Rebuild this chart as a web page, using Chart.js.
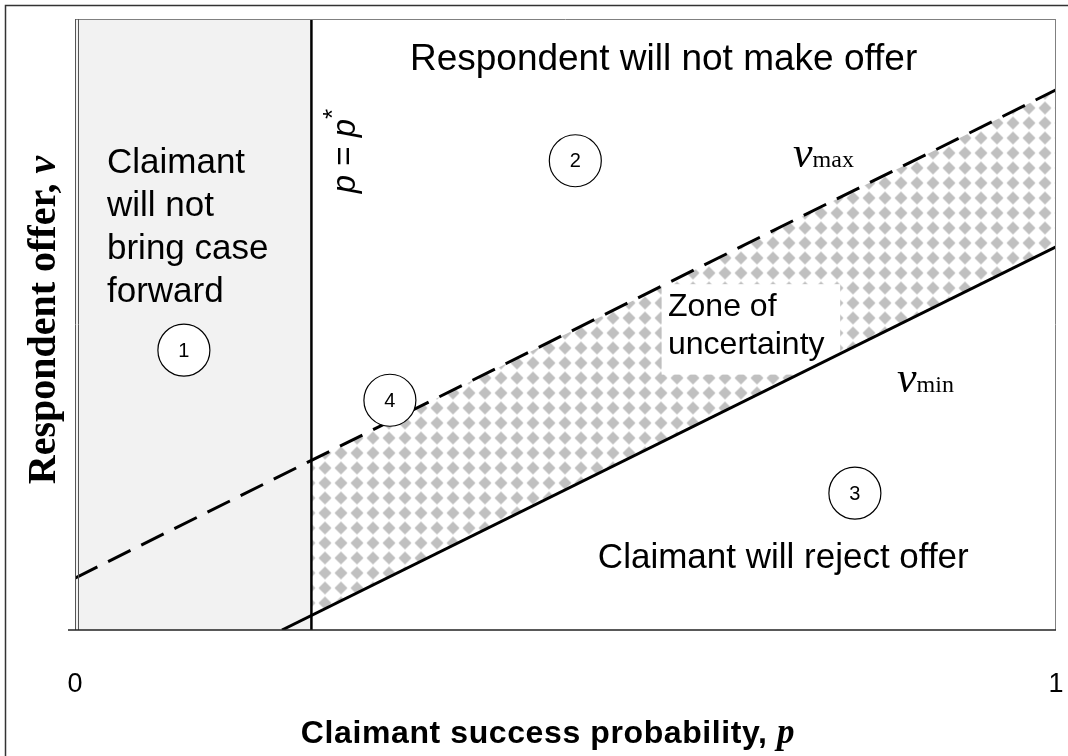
<!DOCTYPE html>
<html lang="en">
<head>
<meta charset="UTF-8">
<title>Offer zones</title>
<script src="https://cdn.jsdelivr.net/npm/chart.js@4.4.0/dist/chart.umd.min.js"></script>
<style>
  html, body { margin: 0; padding: 0; background: #fff; }
  #wrap { width: 1068px; height: 756px; }
</style>
</head>
<body>
<div id="wrap"><canvas id="zones" width="1068" height="756"></canvas></div>
<script>
// x: claimant success probability p, y: respondent offer v (both 0..1)
const pTicks = [0, 1];
const pTickLabels = ['0', '1'];
const pStar = 0.241;

// v_max (dashed) and v_min (solid) end points
const vMaxP = [0, 1];
const vMaxV = [0.085, 0.884];
const vMinP = [0.211, 1];
const vMinV = [0, 0.627];

// zone of uncertainty: between v_max and v_min, right of p*
const zoneP = [pStar, 1];
const zoneTop = [0.277, 0.884];
const zoneBottom = [0.024, 0.627];

// region 1: claimant will not bring case forward
const region1P = [0, pStar];
const region1V = [1, 1];

const SANS = '"Liberation Sans", Arial, sans-serif';
const SERIF = '"Liberation Serif", "Times New Roman", serif';

// annotation spots, in data units (p, v)
const circles = [
    { n: '1', p: 0.111, v: 0.458 },
    { n: '2', p: 0.510, v: 0.768 },
    { n: '3', p: 0.795, v: 0.224 },
    { n: '4', p: 0.321, v: 0.376 }
];
const texts = [
    { lines: ['Respondent will not make offer'], p: 0.600, v: 0.933, size: 37, align: 'center', base: 'middle' },
    { lines: ['Claimant will reject offer'], p: 0.533, v: 0.101, size: 35, align: 'left', base: 'alphabetic' },
    { lines: ['Claimant', 'will not', 'bring case', 'forward'], p: 0.0326, v: 0.748, size: 35, align: 'left', base: 'alphabetic', gap: 43 },
    { lines: ['Zone of', 'uncertainty'], p: 0.6045, v: 0.514, size: 32, align: 'left', base: 'alphabetic', gap: 38 }
];
const zoneBox = { p0: 0.598, p1: 0.780, v0: 0.418, v1: 0.566 };

function pts(xs, ys) {
    return xs.map((x, i) => ({ x: x, y: ys[i] }));
}

function diamondPattern(ctx) {
    const c = document.createElement('canvas');
    c.width = 16; c.height = 15;
    const g = c.getContext('2d');
    g.fillStyle = '#c0c0c0';
    g.beginPath();
    g.moveTo(8, 1); g.lineTo(14.5, 7.5); g.lineTo(8, 14); g.lineTo(1.5, 7.5);
    g.closePath();
    g.fill();
    const pat = ctx.createPattern(c, 'repeat');
    pat.setTransform(new DOMMatrix().translate(-3, -4.5));
    return pat;
}

// draw a run of text pieces with different fonts
function drawRuns(ctx, parts, x, y, align) {
    let total = 0;
    parts.forEach(pt => { ctx.font = pt.font; pt.w = ctx.measureText(pt.t).width; total += pt.w; });
    let cx = align === 'center' ? x - total / 2 : x;
    parts.forEach(pt => {
        ctx.font = pt.font;
        ctx.fillText(pt.t, cx, y + (pt.dy || 0));
        cx += pt.w;
    });
}

const decor = {
    id: 'decor',
    beforeDraw(chart) {
        const ctx = chart.ctx;
        ctx.save();
        ctx.fillStyle = '#fff';
        ctx.fillRect(0, 0, chart.width, chart.height);
        ctx.strokeStyle = '#333';
        ctx.lineWidth = 1.5;
        ctx.beginPath();
        ctx.moveTo(5.5, chart.height); ctx.lineTo(5.5, 5.5); ctx.lineTo(chart.width, 5.5);
        ctx.stroke();
        ctx.restore();
    },
    afterDatasetDraw(chart, args) {
        if (args.index !== 3) return;
        const { x, y } = chart.scales;
        const ctx = chart.ctx;
        ctx.save();
        ctx.fillStyle = '#fff';
        const l = x.getPixelForValue(zoneBox.p0), r = x.getPixelForValue(zoneBox.p1);
        const t = y.getPixelForValue(zoneBox.v1), b = y.getPixelForValue(zoneBox.v0);
        ctx.fillRect(l, t, r - l, b - t);
        ctx.restore();
    },
    afterDraw(chart) {
        const { x, y } = chart.scales;
        const a = chart.chartArea;
        const ctx = chart.ctx;
        ctx.save();

        // plot frame
        ctx.lineWidth = 1;
        ctx.strokeStyle = '#808080';
        ctx.beginPath();
        ctx.moveTo(a.left, a.top + 0.5); ctx.lineTo(a.right, a.top + 0.5);
        ctx.moveTo(a.right - 0.5, a.top); ctx.lineTo(a.right - 0.5, a.bottom);
        ctx.stroke();
        ctx.strokeStyle = '#555';
        ctx.beginPath();
        ctx.moveTo(a.left + 0.5, a.top); ctx.lineTo(a.left + 0.5, a.bottom);
        ctx.moveTo(a.left + 3.5, a.top); ctx.lineTo(a.left + 3.5, a.bottom);
        ctx.stroke();
        ctx.strokeStyle = '#222';
        ctx.lineWidth = 1.5;
        ctx.beginPath();
        ctx.moveTo(a.left - 7, a.bottom); ctx.lineTo(a.right, a.bottom);
        ctx.stroke();

        ctx.fillStyle = '#000';

        // region texts
        texts.forEach(tx => {
            ctx.font = tx.size + 'px ' + SANS;
            ctx.textAlign = tx.align;
            ctx.textBaseline = tx.base;
            const px = x.getPixelForValue(tx.p);
            const py = y.getPixelForValue(tx.v);
            tx.lines.forEach((ln, i) => ctx.fillText(ln, px, py + i * (tx.gap || 0)));
        });

        // numbered circles
        circles.forEach(c => {
            const px = x.getPixelForValue(c.p), py = y.getPixelForValue(c.v);
            ctx.fillStyle = '#fff';
            ctx.strokeStyle = '#000';
            ctx.lineWidth = 1.2;
            ctx.beginPath();
            ctx.arc(px, py, 26, 0, Math.PI * 2);
            ctx.fill();
            ctx.stroke();
            ctx.fillStyle = '#000';
            ctx.font = '20px ' + SANS;
            ctx.textAlign = 'center';
            ctx.textBaseline = 'middle';
            ctx.fillText(c.n, px, py + 1);
        });

        ctx.textAlign = 'left';
        ctx.textBaseline = 'alphabetic';

        // p = p* rotated, next to the vertical line
        ctx.save();
        ctx.translate(x.getPixelForValue(pStar) + 44, 151);
        ctx.rotate(-Math.PI / 2);
        drawRuns(ctx, [
            { t: 'p', font: 'italic 33px ' + SANS },
            { t: ' = ', font: '33px ' + SANS },
            { t: 'p', font: 'italic 33px ' + SANS },
            { t: '*', font: '26px ' + SANS, dy: -14 }
        ], 0, 0, 'center');
        ctx.restore();

        // v_max and v_min labels
        drawRuns(ctx, [
            { t: 'v', font: 'italic 44px ' + SERIF },
            { t: 'max', font: '24px ' + SERIF }
        ], x.getPixelForValue(0.732), y.getPixelForValue(0.758), 'left');
        drawRuns(ctx, [
            { t: 'v', font: 'italic 44px ' + SERIF },
            { t: 'min', font: '24px ' + SERIF }
        ], x.getPixelForValue(0.838), y.getPixelForValue(0.390), 'left');

        // axis titles
        ctx.letterSpacing = '0.6px';
        drawRuns(ctx, [
            { t: 'Claimant success probability, ', font: 'bold 32px ' + SANS },
            { t: 'p', font: 'bold italic 35px ' + SERIF }
        ], 548, 743, 'center');
        ctx.letterSpacing = '0px';

        ctx.save();
        ctx.translate(55, 320);
        ctx.rotate(-Math.PI / 2);
        drawRuns(ctx, [
            { t: 'Respondent offer, ', font: 'bold 40px ' + SERIF },
            { t: 'v', font: 'bold italic 40px ' + SERIF }
        ], 0, 0, 'center');
        ctx.restore();

        ctx.restore();
    }
};

const canvas = document.getElementById('zones');
const ctx = canvas.getContext('2d');
const hatch = diamondPattern(ctx);

const noPts = { pointRadius: 0, pointHoverRadius: 0, tension: 0 };

new Chart(ctx, {
    type: 'line',
    data: {
        datasets: [
            Object.assign({ label: 'v max', data: pts(vMaxP, vMaxV), borderColor: '#000', borderWidth: 3,
                borderDash: [25, 12], fill: false, order: 1 }, noPts),
            Object.assign({ label: 'v min', data: pts(vMinP, vMinV), borderColor: '#000', borderWidth: 3,
                fill: false, order: 1 }, noPts),
            Object.assign({ label: 'p star', data: pts([pStar, pStar], [0, 1]), borderColor: '#000', borderWidth: 2.5,
                fill: false, order: 1 }, noPts),
            Object.assign({ label: 'zone top', data: pts(zoneP, zoneTop), borderWidth: 0, borderColor: 'rgba(0,0,0,0)',
                backgroundColor: hatch, fill: '+1', order: 5 }, noPts),
            Object.assign({ label: 'zone bottom', data: pts(zoneP, zoneBottom), borderWidth: 0, borderColor: 'rgba(0,0,0,0)',
                fill: false, order: 6 }, noPts),
            Object.assign({ label: 'region 1', data: pts(region1P, region1V), borderWidth: 0, borderColor: 'rgba(0,0,0,0)',
                backgroundColor: '#f2f2f2', fill: 'origin', order: 9 }, noPts)
        ]
    },
    options: {
        responsive: false,
        animation: false,
        devicePixelRatio: 1,
        layout: { padding: { left: 75, right: 12, top: 19, bottom: 55.6 } },
        plugins: { legend: { display: false }, tooltip: { enabled: false } },
        scales: {
            x: {
                type: 'linear', min: 0, max: 1,
                // tick marks hidden, their length only spaces the labels down
                grid: { display: false, drawTicks: true, tickLength: 38 },
                border: { display: false },
                afterBuildTicks: axis => { axis.ticks = pTicks.map(v => ({ value: v })); },
                ticks: {
                    color: '#000', padding: 0,
                    font: { family: SANS, size: 27 },
                    maxRotation: 0, autoSkip: false,
                    callback: (val, i) => pTickLabels[i]
                }
            },
            y: { type: 'linear', min: 0, max: 1, display: false }
        }
    },
    plugins: [decor]
});
</script>
</body>
</html>
